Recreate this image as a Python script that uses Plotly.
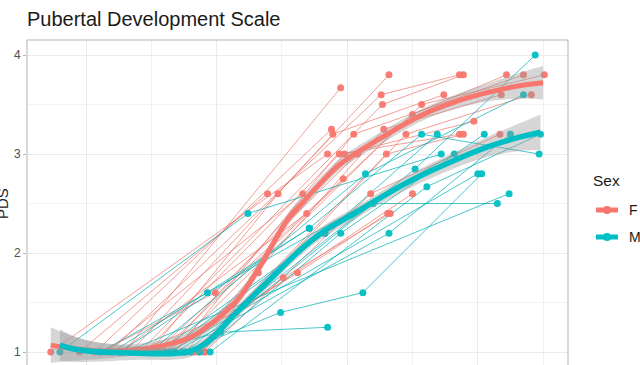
import plotly.graph_objects as go

RED = "#F8766D"
TEAL = "#00BFC4"

# ---- per-subject trajectories (age in years, PDS score) ----
f_age = [
    [9.29, 10.95], [9.49, 10.47, 11.32], [9.18, 11.26, 11.86], [9.41, 11.27, 11.89],
    [9.64, 11.57, 12.51], [9.57, 11.50, 12.22], [9.07, 10.88], [9.34, 10.89, 11.74],
    [9.68, 11.05, 12.35], [9.76, 11.28, 12.18], [9.87, 11.45, 12.41], [8.73, 10.85],
    [9.45, 10.94, 11.86], [9.61, 10.98, 11.97], [9.83, 11.30, 11.89], [9.53, 10.97],
    [9.15, 10.66], [9.91, 11.18, 12.17], [9.90, 10.32], [8.95, 10.39],
    [9.64, 10.62, 11.31], [9.80, 10.51, 11.33], [9.26, 10.69], [9.11, 9.99, 11.08],
    [9.37, 10.15, 11.50],
]
f_pds = [
    [1.0, 3.67], [1.0, 2.6, 3.8], [1.0, 3.6, 3.8], [1.0, 3.5, 3.8],
    [1.0, 3.5, 3.8], [1.0, 3.4, 3.8], [1.0, 3.25], [1.0, 3.2, 3.6],
    [1.0, 3.2, 3.8], [1.0, 3.25, 3.6], [1.0, 3.2, 3.6], [1.0, 3.0],
    [1.0, 3.0, 3.2], [1.0, 3.0, 3.33], [1.0, 3.0, 3.2], [1.0, 2.75],
    [1.0, 2.6], [1.0, 2.6, 3.2], [1.0, 1.8], [1.0, 2.6],
    [1.0, 1.8, 2.4], [1.0, 1.75, 2.4], [1.0, 2.4], [1.0, 1.6, 3.0],
    [1.0, 1.4, 2.6],
]
m_age = [
    [9.76, 11.52, 12.44], [9.49, 11.14, 12.35], [9.26, 10.71, 11.57, 12.47],
    [9.61, 10.83, 11.69], [9.80, 11.20, 12.15], [9.87, 10.95, 12.05],
    [9.68, 11.32, 12.25], [9.95, 11.61, 12.48], [8.80, 10.24, 11.72],
    [9.11, 9.93, 11.82], [9.74, 10.49, 11.12, 12.03], [9.41, 10.03, 10.85],
    [9.64, 12.00], [9.30, 12.24], [9.20, 10.71], [9.55, 10.83],
]
m_pds = [
    [1.0, 2.85, 4.0], [1.0, 2.8, 3.6], [1.0, 2.25, 3.2, 3.0],
    [1.0, 2.2, 3.2], [1.0, 2.5, 2.5], [1.0, 2.2, 3.2],
    [1.0, 2.2, 3.2], [1.0, 2.67, 3.2], [1.0, 2.4, 3.0],
    [1.0, 1.6, 3.0], [1.0, 1.4, 1.6, 2.8], [1.0, 1.2, 1.25],
    [1.0, 2.8], [1.0, 2.6], [1.0, 2.25], [1.0, 2.2],
]

# ---- smoothed fits ----
f_fit_age = [8.73, 8.88, 9.11, 9.34, 9.57, 9.80, 9.99, 10.16, 10.33, 10.54, 10.66,
             10.94, 11.23, 11.58, 11.81, 12.07, 12.32, 12.50]
f_fit_pds = [1.07, 1.04, 1.01, 1.02, 1.06, 1.15, 1.32, 1.53, 1.86, 2.33, 2.51,
             2.89, 3.14, 3.40, 3.52, 3.62, 3.69, 3.72]
f_fit_lo = [0.89, 0.91, 0.93, 0.96, 1.00, 1.09, 1.26, 1.47, 1.80, 2.27, 2.45,
            2.83, 3.08, 3.34, 3.45, 3.53, 3.56, 3.55]
f_fit_hi = [1.25, 1.17, 1.09, 1.08, 1.12, 1.21, 1.38, 1.59, 1.92, 2.39, 2.57,
            2.95, 3.20, 3.46, 3.59, 3.71, 3.82, 3.89]

m_fit_age = [8.80, 8.95, 9.36, 9.77, 9.93, 10.13, 10.39, 10.64, 10.81, 11.07, 11.23,
             11.50, 11.81, 12.07, 12.32, 12.48]
m_fit_pds = [1.07, 1.02, 0.99, 1.00, 1.10, 1.37, 1.71, 2.03, 2.21, 2.41, 2.54,
             2.74, 2.93, 3.07, 3.17, 3.22]
m_fit_lo = [0.91, 0.90, 0.92, 0.94, 1.04, 1.31, 1.65, 1.97, 2.15, 2.35, 2.48,
            2.67, 2.85, 2.97, 3.03, 3.04]
m_fit_hi = [1.23, 1.14, 1.06, 1.06, 1.16, 1.43, 1.77, 2.09, 2.27, 2.47, 2.60,
            2.81, 3.01, 3.17, 3.31, 3.40]

y_ticks = [1, 2, 3, 4]
y_tick_labels = ["1", "2", "3", "4"]
sex_levels = ["F", "M"]
sex_colors = [RED, TEAL]


def flatten(ages, pds):
    xs, ys = [], []
    for a, p in zip(ages, pds):
        xs += list(a) + [None]
        ys += list(p) + [None]
    return xs, ys


fig = go.Figure()

fx, fy = flatten(f_age, f_pds)
mx, my = flatten(m_age, m_pds)

fig.add_trace(go.Scatter(x=fx, y=fy, mode="lines", connectgaps=False,
                         line=dict(color="rgba(235,110,100,0.75)", width=0.9),
                         showlegend=False, hoverinfo="skip"))
fig.add_trace(go.Scatter(x=mx, y=my, mode="lines", connectgaps=False,
                         line=dict(color="rgba(0,175,180,0.8)", width=0.9),
                         showlegend=False, hoverinfo="skip"))
fig.add_trace(go.Scatter(x=fx, y=fy, mode="markers",
                         marker=dict(color=RED, size=7, opacity=0.95, line=dict(width=0)),
                         showlegend=False))
fig.add_trace(go.Scatter(x=mx, y=my, mode="markers",
                         marker=dict(color=TEAL, size=7, opacity=0.95, line=dict(width=0)),
                         showlegend=False))

BAND = "rgba(153,153,153,0.4)"
for ages, fit, lo, hi, col, w in [
    (f_fit_age, f_fit_pds, f_fit_lo, f_fit_hi, RED, 5),
    (m_fit_age, m_fit_pds, m_fit_lo, m_fit_hi, TEAL, 5.5),
]:
    fig.add_trace(go.Scatter(x=ages, y=lo, mode="lines", line=dict(width=0, shape="spline"),
                             showlegend=False, hoverinfo="skip"))
    fig.add_trace(go.Scatter(x=ages, y=hi, mode="lines", line=dict(width=0, shape="spline"),
                             fill="tonexty", fillcolor=BAND, showlegend=False, hoverinfo="skip"))
    fig.add_trace(go.Scatter(x=ages, y=fit, mode="lines",
                             line=dict(color=col, width=w, shape="spline"),
                             showlegend=False))

W, H = 640, 365
PL, PT, PW, PH = 27, 40, 541, 325  # plot-area geometry in window pixels


def px_x(p):
    return (p - PL) / PW


def px_y(p):
    return 1 - (p - PT) / PH


shapes = [dict(type="rect", xref="paper", yref="paper", x0=0, x1=1, y0=-0.05, y1=1,
               line=dict(color="#b3b3b3", width=1), fillcolor="rgba(0,0,0,0)", layer="above")]
annotations = [
    dict(text="PDS", xref="paper", yref="paper", x=px_x(2), y=px_y(204), textangle=-90,
         showarrow=False, xanchor="center", yanchor="middle",
         font=dict(size=15, color="#1a1a1a")),
    dict(text="Sex", xref="paper", yref="paper", x=px_x(591), y=px_y(180),
         showarrow=False, xanchor="left", yanchor="middle",
         font=dict(size=15.5, color="#1a1a1a")),
]
for i, (lab, col) in enumerate(zip(sex_levels, sex_colors)):
    yk = px_y(210 + 27 * i)
    shapes.append(dict(type="line", xref="paper", yref="paper", x0=px_x(596), x1=px_x(618),
                       y0=yk, y1=yk, line=dict(color=col, width=5)))
    shapes.append(dict(type="circle", xref="paper", yref="paper", xsizemode="pixel",
                       ysizemode="pixel", xanchor=px_x(607), yanchor=yk,
                       x0=-4, x1=4, y0=-4, y1=4, fillcolor=col, line=dict(width=0)))
    annotations.append(dict(text=lab, xref="paper", yref="paper", x=px_x(627), y=yk,
                            showarrow=False, xanchor="left", yanchor="middle",
                            font=dict(size=14, color="#1a1a1a")))

GRID = "#ebebeb"
fig.update_layout(
    width=W, height=H,
    margin=dict(l=PL, r=W - PL - PW, t=PT, b=0),
    paper_bgcolor="white", plot_bgcolor="white",
    showlegend=False,
    font=dict(family="Liberation Sans, Arial, sans-serif", color="#4d4d4d"),
    title=dict(text="Pubertal Development Scale", x=27 / W, xanchor="left",
               y=1 - 19 / H, yanchor="middle",
               font=dict(size=20, color="#1a1a1a")),
    xaxis=dict(range=[8.548, 12.691], dtick=1, tick0=9, showgrid=True, gridcolor=GRID,
               gridwidth=1, zeroline=False, showticklabels=False, ticks="",
               minor=dict(dtick=0.5, tick0=9, showgrid=True, gridcolor="#f2f2f2", gridwidth=0.7)),
    yaxis=dict(range=[0.869, 4.152], tickvals=y_ticks, ticktext=y_tick_labels,
               showgrid=True, gridcolor=GRID, gridwidth=1, zeroline=False,
               ticks="outside", ticklen=3, tickcolor="#b3b3b3", tickwidth=1,
               tickfont=dict(size=12, color="#4d4d4d"), automargin=False,
               minor=dict(tickvals=[1.5, 2.5, 3.5], showgrid=True, gridcolor="#f2f2f2",
                          gridwidth=0.7, ticks="")),
    shapes=shapes,
    annotations=annotations,
)

# remove the browser's default 8px page margin so the figure fills the window
fig.write_html("out.html",
               config={"displayModeBar": False, "displaylogo": False},
               post_script="document.body.style.margin='0px';document.body.style.overflow='hidden';")
